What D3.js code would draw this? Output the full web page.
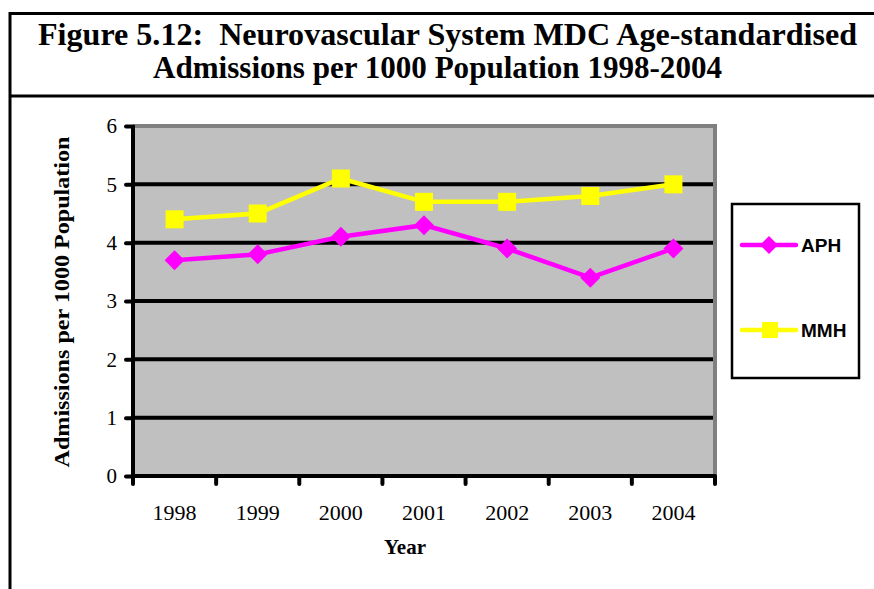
<!DOCTYPE html>
<html><head><meta charset="utf-8">
<script src="https://cdn.jsdelivr.net/npm/d3@7"></script>
<style>html,body{margin:0;padding:0;background:#fff;}svg{display:block;}</style>
</head><body>
<script>
const years = ["1998","1999","2000","2001","2002","2003","2004"];
const aph = [3.7, 3.8, 4.1, 4.3, 3.9, 3.4, 3.9];
const mmh = [4.4, 4.5, 5.1, 4.7, 4.7, 4.8, 5.0];
const yTicks = [0,1,2,3,4,5,6];
const titleLines = ["Figure 5.12:  Neurovascular System MDC Age-standardised", "Admissions per 1000 Population 1998-2004"];
const seriesNames = ["APH","MMH"];

(function(){
const W = 874, H = 589;
const SERIF = '"Liberation Serif", "Times New Roman", Times, serif';
const SANS = '"Liberation Sans", Arial, sans-serif';
const svg = d3.select("body").append("svg").attr("width", W).attr("height", H);

// frame
svg.append("line").attr("x1",9).attr("x2",W).attr("y1",13.5).attr("y2",13.5).attr("stroke","#000").attr("stroke-width",3);
svg.append("line").attr("x1",9).attr("x2",W).attr("y1",96).attr("y2",96).attr("stroke","#000").attr("stroke-width",3);
svg.append("line").attr("x1",10).attr("x2",10).attr("y1",12).attr("y2",H).attr("stroke","#000").attr("stroke-width",3);

// title
const tl = [{t:titleLines[0], y:45, x0:38, x1:857},{t:titleLines[1], y:78, x0:153, x1:722}];
tl.forEach(d=>{
  svg.append("text").attr("x",d.x0).attr("y",d.y)
    .style("font-family",SERIF).style("font-weight","bold").style("font-size","32px")
    .attr("textLength",d.x1-d.x0).attr("lengthAdjust","spacingAndGlyphs")
    .style("white-space","pre")
    .text(d.t);
});

const pl = 133, pr = 715, pt = 126, pb = 476;
const x = d3.scaleBand().domain(years).range([pl,pr]).padding(0);
const y = d3.scaleLinear().domain([0,6]).range([pb,pt]);

// plot bg
svg.append("rect").attr("x",pl).attr("y",pt).attr("width",pr-pl).attr("height",pb-pt).attr("fill","#C0C0C0");
// gray border top/right
svg.append("path").attr("d",`M${pl},${pt}H${pr}V${pb}`).attr("fill","none").attr("stroke","#808080").attr("stroke-width",4);

// gridlines
svg.append("g").selectAll("line").data(yTicks.filter(t=>t>0 && t<6)).join("line")
  .attr("x1",pl).attr("x2",pr-2).attr("y1",d=>y(d)).attr("y2",d=>y(d))
  .attr("stroke","#000").attr("stroke-width",4);

// axes
const yAxis = svg.append("g").attr("transform",`translate(${pl},0)`)
  .call(d3.axisLeft(y).tickValues(yTicks).tickSize(7).tickPadding(9).tickFormat(d3.format("d")));
yAxis.select(".domain").attr("stroke","#000").attr("stroke-width",4).attr("d",`M0,${pt-1}V${pb+2}`);
yAxis.selectAll(".tick line").attr("stroke","#000").attr("stroke-width",4).attr("stroke-linecap","round");
yAxis.selectAll(".tick text").style("font-family",SERIF).style("font-size","21px").attr("fill","#000");

const xAxis = svg.append("g").attr("transform",`translate(0,${pb})`)
  .call(d3.axisBottom(x).tickSize(0).tickPadding(28));
xAxis.select(".domain").attr("stroke","#000").attr("stroke-width",4).attr("d",`M${pl-2},0H${pr}`);
xAxis.selectAll(".tick text").style("font-family",SERIF).style("font-size","22px").attr("fill","#000");
// category boundary ticks
const bounds = years.map(d=>x(d)).concat([pr]);
svg.append("g").selectAll("line").data(bounds).join("line")
  .attr("x1",d=>d).attr("x2",d=>d).attr("y1",pb).attr("y2",pb+8)
  .attr("stroke","#000").attr("stroke-width",4).attr("stroke-linecap","round");

// axis titles
svg.append("text").attr("x",405).attr("y",554).attr("text-anchor","middle")
  .style("font-family",SERIF).style("font-weight","bold").style("font-size","21px").text("Year");
svg.append("text").attr("transform",`translate(69,302) rotate(-90)`).attr("text-anchor","middle")
  .style("font-family",SERIF).style("font-weight","bold").style("font-size","21px")
  .attr("textLength",331).attr("lengthAdjust","spacingAndGlyphs")
  .text("Admissions per 1000 Population");

const cx = d => x(d) + x.bandwidth()/2;
const line = d3.line().x((d,i)=>cx(years[i])).y(d=>y(d));
const diamond = s => `M0,${-s}L${s},0L0,${s}L${-s},0Z`;

// MMH
svg.append("path").datum(mmh).attr("d",line).attr("fill","none").attr("stroke","#FFFF00").attr("stroke-width",4.5);
svg.append("g").selectAll("rect").data(mmh).join("rect")
  .attr("x",(d,i)=>cx(years[i])-9).attr("y",d=>y(d)-9).attr("width",18).attr("height",18).attr("fill","#FFFF00");
// APH
svg.append("path").datum(aph).attr("d",line).attr("fill","none").attr("stroke","#FF00FF").attr("stroke-width",4.5);
svg.append("g").selectAll("path").data(aph).join("path")
  .attr("transform",(d,i)=>`translate(${cx(years[i])},${y(d)})`).attr("d",diamond(10)).attr("fill","#FF00FF");

// legend
svg.append("rect").attr("x",732).attr("y",204).attr("width",127).attr("height",174).attr("fill","#fff").attr("stroke","#000").attr("stroke-width",2.5);
const leg = [{n:seriesNames[0], c:"#FF00FF", y:245, m:"d"},{n:seriesNames[1], c:"#FFFF00", y:330, m:"s"}];
leg.forEach(d=>{
  svg.append("line").attr("x1",742).attr("x2",796).attr("y1",d.y).attr("y2",d.y).attr("stroke",d.c).attr("stroke-width",4.5).attr("stroke-linecap","round");
  if (d.m==="d") svg.append("path").attr("transform",`translate(769,${d.y})`).attr("d",diamond(9)).attr("fill",d.c);
  else svg.append("rect").attr("x",762).attr("y",d.y-8).attr("width",16).attr("height",16).attr("fill",d.c);
  svg.append("text").attr("x",801).attr("y",d.y+7).style("font-family",SANS).style("font-weight","bold").style("font-size","19px").text(d.n);
});
})();
</script>
</body></html>
